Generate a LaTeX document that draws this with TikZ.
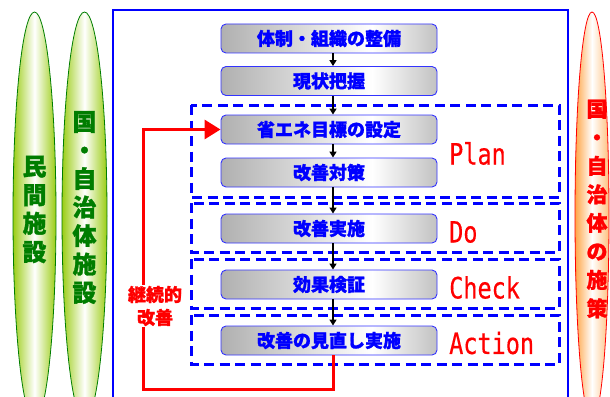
\documentclass[tikz,border=0pt]{standalone}
\usepackage{fontspec}
\newfontfamily\cjk{Noto Sans CJK JP}[BoldFeatures={FakeBold=1.2}]
\newfontfamily\monof{DejaVu Sans Mono}[FakeBold=0.4]
\usetikzlibrary{arrows.meta,shapes.geometric}
\pgfdeclarehorizontalshading{boxshade}{100bp}{color(0bp)=(gray!62); color(25bp)=(gray!62); color(60bp)=(white); color(75bp)=(gray!48); color(100bp)=(gray!48)}
\definecolor{myblue}{RGB}{0,0,255}
\definecolor{mygreen}{RGB}{0,125,0}
\definecolor{ygreen}{RGB}{155,205,20}
\definecolor{myorange}{RGB}{255,165,70}
\begin{document}
\begin{tikzpicture}[x=1pt,y=-1pt,
  stepbox/.style={draw=myblue!80, line width=0.9pt, rounded corners=5pt, shading=boxshade,
    minimum width=216pt, minimum height=29pt, inner sep=0pt, text=myblue,
    font=\cjk\bfseries\fontsize{18}{20}\selectfont},
  flow/.style={line width=1.6pt, -{Triangle[length=6pt,width=7pt]}},
  dashbox/.style={draw=myblue, line width=3pt, dash pattern=on 10pt off 5.5pt},
  phase/.style={text=red, anchor=west, inner sep=0pt},
  vtext/.style={align=center, inner sep=0pt, font=\cjk\bfseries\fontsize{24}{28.5}\selectfont},
  loopline/.style={draw=red, line width=3pt, -{Triangle[length=16pt,width=19pt]}},
]
\useasboundingbox (0,0) rectangle (610,396);
\clip (0,0) rectangle (610,396);

% outer blue frame
\draw[myblue, line width=2pt] (113,420) -- (113,10) -- (568,10) -- (568,420);

% side ellipses
\shade[left color=ygreen, right color=ygreen, middle color=white] (34.5,216) ellipse (21.5 and 204);
\draw[mygreen, line width=0.8pt] (34.5,216) ellipse (21.5 and 204);
\shade[left color=ygreen, right color=ygreen, middle color=white] (84.5,216) ellipse (22.5 and 204);
\draw[mygreen, line width=0.8pt] (84.5,216) ellipse (22.5 and 204);
\shade[left color=myorange, right color=myorange!70, middle color=white] (592,216) ellipse (17 and 204);
\draw[red, line width=0.8pt] (592,216) ellipse (17 and 204);

\node[vtext, text=mygreen] (t1) at (34.5,209.5) {民\\間\\施\\設};
\node[vtext, text=mygreen] (t2) at (84.5,207.5) {国\\・\\自\\治\\体\\施\\設};
\node[vtext, text=red, font=\cjk\bfseries\fontsize{21}{28.5}\selectfont] (t3) at (597,209) {国\\・\\自\\治\\体\\の\\施\\策};

% PDCA dashed boxes
\draw[dashbox] (191,105) rectangle (559,197);
\draw[dashbox] (191,203) rectangle (559,252);
\draw[dashbox] (191,259) rectangle (559,308);
\draw[dashbox] (191,315) rectangle (559,364);

\node[phase] (pP) at (449,153.5) {\scalebox{1}[1.25]{\monof\fontsize{23.5}{24}\selectfont Plan}};
\node[phase] (pD) at (449,232) {\scalebox{1}[1.25]{\monof\fontsize{23.5}{24}\selectfont Do}};
\node[phase] (pC) at (449,287.5) {\scalebox{1}[1.25]{\monof\fontsize{23.5}{24}\selectfont Check}};
\node[phase] (pA) at (449,343) {\scalebox{1}[1.25]{\monof\fontsize{23.5}{24}\selectfont Action}};

% step boxes
\node[stepbox] (b1) at (329,38.5) {体制・組織の整備};
\node[stepbox] (b2) at (329,81) {現状把握};
\node[stepbox] (b3) at (329,129.5) {省エネ目標の設定};
\node[stepbox] (b4) at (329,172.5) {改善対策};
\node[stepbox] (b5) at (329,228.5) {改善実施};
\node[stepbox] (b6) at (329,284.5) {効果検証};
\node[stepbox] (b7) at (329,340.5) {改善の見直し実施};

\draw[flow] ([xshift=4pt]b1.south) -- ([xshift=4pt]b2.north);
\draw[flow] ([xshift=4pt]b2.south) -- ([xshift=4pt]b3.north);
\draw[flow] ([xshift=4pt]b3.south) -- ([xshift=4pt]b4.north);
\draw[flow] ([xshift=4pt]b4.south) -- ([xshift=4pt]b5.north);
\draw[flow] ([xshift=4pt]b5.south) -- ([xshift=4pt]b6.north);
\draw[flow] ([xshift=4pt]b6.south) -- ([xshift=4pt]b7.north);

% continuous improvement loop
\coordinate (lb) at (143,389);
\draw[loopline] ([xshift=4pt]b7.south) |- (lb) |- (b3.west);
\node[fill=white, text=red, align=center, inner sep=1pt,
  font=\cjk\bfseries\fontsize{18}{23}\selectfont] (lbl) at (155,306) {継続的\\改善};
\end{tikzpicture}
\end{document}
